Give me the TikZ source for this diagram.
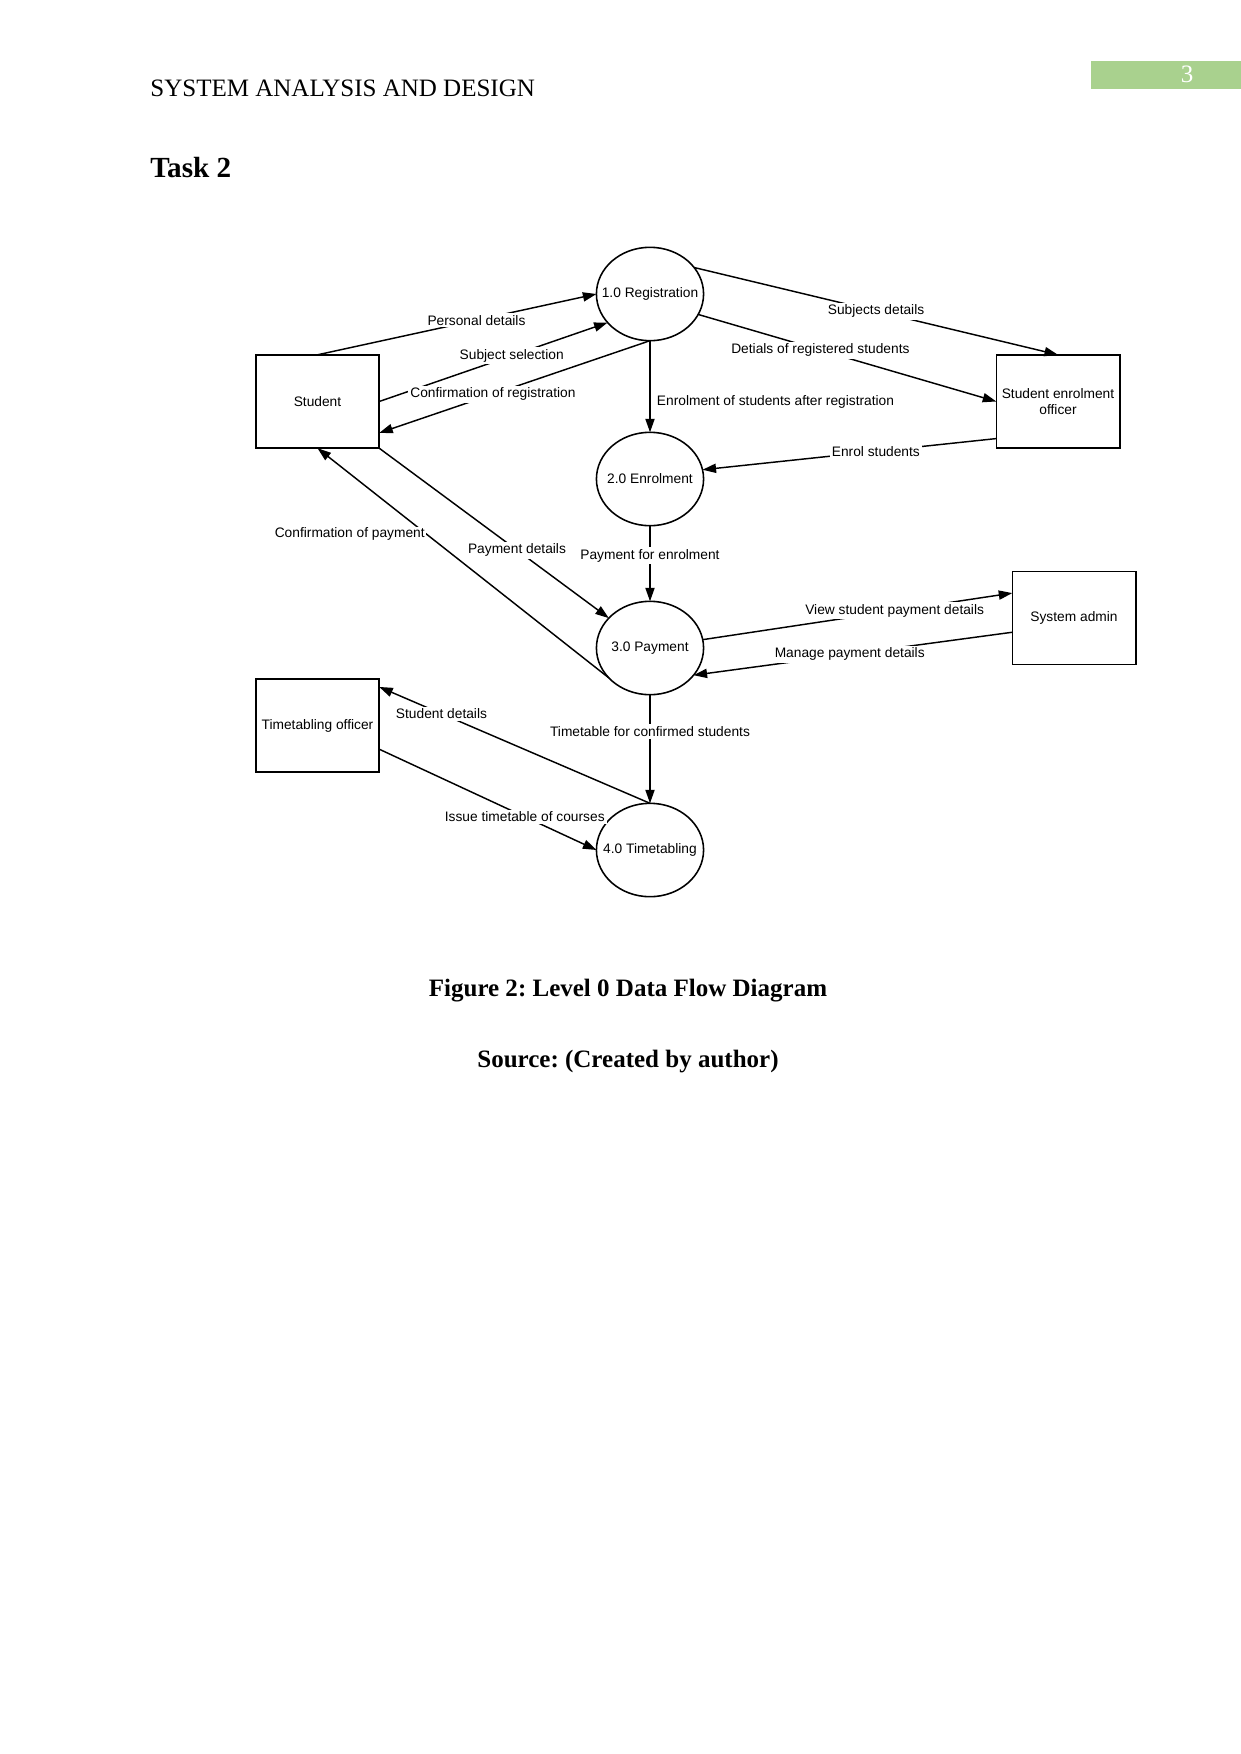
\documentclass[tikz,border=0pt]{standalone}
\usepackage{fontspec}
\setmainfont{Liberation Serif}
\newfontfamily\diafont{Liberation Sans}
\usetikzlibrary{arrows.meta,shapes.geometric}
\definecolor{hdrgreen}{HTML}{A9D18E}
\frenchspacing
\tikzset{
  proc/.style={ellipse,draw,line width=0.75pt,minimum width=51.4pt,minimum height=44.8pt,inner sep=0pt,outer sep=0pt},
  ptext/.style={inner sep=0pt,font=\diafont\fontsize{6.6}{8}\selectfont},
  ent/.style={rectangle,draw,line width=0.75pt,minimum width=59.2pt,minimum height=44.8pt,inner sep=1pt,outer sep=0pt,align=center,font=\diafont\fontsize{6.6}{8}\selectfont},
  flow/.style={line width=0.7pt,-{Triangle[length=6.5pt,width=4.4pt]}},
  lbl/.style={fill=white,inner sep=1pt,font=\diafont\fontsize{6.6}{8}\selectfont},
  hdr/.style={inner sep=0pt,anchor=base west,font=\fontsize{12}{14}\selectfont},
}
\begin{document}
\begin{tikzpicture}[x=0.4797pt,y=-0.4797pt]
\useasboundingbox (0,0) rectangle (1241,1754);
% header
\node[hdr] (title) at (150,97) {SYSTEM ANALYSIS AND DESIGN};
\fill[hdrgreen] (1091,61) rectangle (1241,89);
\node[inner sep=0pt,anchor=base,text=white,font=\fontsize{12}{14}\selectfont] (pgno) at (1187,83) {3};
\node[inner sep=0pt,anchor=base west,font=\bfseries\fontsize{14}{16}\selectfont] (task) at (150,177) {Task 2};
% processes
\node[proc,label={[ptext]center:1.0 Registration}] (reg) at (650,294) {};
\node[proc,label={[ptext]center:2.0 Enrolment}] (enr) at (650,479) {};
\node[proc,label={[ptext]center:3.0 Payment}] (pay) at (650,648) {};
\node[proc,label={[ptext]center:4.0 Timetabling}] (tim) at (650,850) {};
% entities
\node[ent] (stu) at (317.5,401.5) {Student};
\node[ent] (seo) at (1058,401.5) {Student enrolment\\officer};
\node[ent] (sa) at (1074,618) {System admin};
\node[ent] (tto) at (317.5,725.5) {Timetabling officer};
% flows
\draw[flow] (stu.north) -- node[lbl,pos=0.57] (l1) {Personal details} (reg.west);
\draw[flow] (stu.east) -- node[lbl,pos=0.58] (l2) {Subject selection} (reg.214);
\draw[flow] (reg.south) -- node[lbl,pos=0.58] (l3) {Confirmation of registration} (stu.-27);
\draw[flow] (reg.south) -- node[lbl,pos=0.67,anchor=west,xshift=2pt] (l4) {Enrolment of students after registration} (enr.north);
\draw[flow] (reg.31) -- node[lbl,pos=0.5] (l5) {Subjects details} (seo.north);
\draw[flow] (reg.-23) -- node[lbl,pos=0.41] (l6) {Detials of registered students} (seo.west);
\draw[flow] (seo.211) -- node[lbl,pos=0.41] (l7) {Enrol students} (enr.10);
\draw[flow] (enr.south) -- node[lbl,pos=0.4] (l8) {Payment for enrolment} (pay.north);
\draw[flow] (stu.south east) -- node[lbl,pos=0.6] (l9) {Payment details} (pay.144);
\draw[flow] (pay.216) -- node[lbl,pos=0.626,anchor=east,inner sep=0.5pt] (l10) {Confirmation of payment} (stu.south);
\draw[flow] (pay.9) -- node[lbl,pos=0.62] (l11) {View student payment details} (sa.158);
\draw[flow] (sa.193) -- node[lbl,pos=0.51] (l12) {Manage payment details} (pay.-32);
\draw[flow] (tim.north) -- node[lbl,pos=0.77] (l13) {Student details} (tto.32);
\draw[flow] (pay.south) -- node[lbl,pos=0.34] (l14) {Timetable for confirmed students} (tim.north);
\draw[flow] (tto.-21) -- node[lbl,pos=0.67] (l15) {Issue timetable of courses} (tim.west);
% caption
\node[inner sep=0pt,anchor=base,font=\bfseries\fontsize{12}{14}\selectfont] (cap) at (628,996) {Figure 2: Level 0 Data Flow Diagram};
\node[inner sep=0pt,anchor=base,font=\bfseries\fontsize{12}{14}\selectfont] (src) at (628,1067) {Source: (Created by author)};
\end{tikzpicture}
\end{document}
